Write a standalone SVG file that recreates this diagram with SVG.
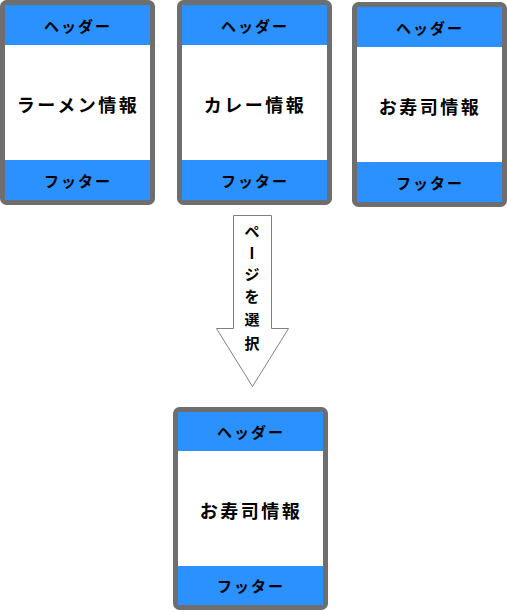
<svg xmlns="http://www.w3.org/2000/svg" width="507" height="612" viewBox="0 0 507 612">
<style>
.frame{fill:#fff;stroke:#6e6e6e;stroke-width:5}
.bar{fill:#2a91fe}
text{font-family:"Noto Sans CJK JP","Noto Sans",sans-serif;fill:#000;text-anchor:middle;dominant-baseline:central;font-weight:bold}
.hf{font-size:15px;letter-spacing:2px}
.main{font-size:18px;letter-spacing:2.5px}
.arr{font-size:15px}
</style>
<g id="page-ramen">
<rect class="frame" x="2.5" y="2.5" width="150" height="200" rx="4"/>
<rect class="bar" x="5" y="5" width="145" height="40"/>
<rect class="bar" x="5" y="160" width="145" height="40"/>
<text class="hf" x="78" y="25">ヘッダー</text>
<text class="main" x="78" y="104">ラーメン情報</text>
<text class="hf" x="78" y="180">フッター</text>
</g>
<g id="page-curry">
<rect class="frame" x="179.5" y="2.5" width="150" height="200" rx="4"/>
<rect class="bar" x="182" y="5" width="145" height="40"/>
<rect class="bar" x="182" y="160" width="145" height="40"/>
<text class="hf" x="255" y="25">ヘッダー</text>
<text class="main" x="255" y="104">カレー情報</text>
<text class="hf" x="255" y="180">フッター</text>
</g>
<g id="page-sushi">
<rect class="frame" x="354.5" y="4.5" width="150" height="200" rx="4"/>
<rect class="bar" x="357" y="7" width="145" height="40"/>
<rect class="bar" x="357" y="162" width="145" height="40"/>
<text class="hf" x="430" y="27">ヘッダー</text>
<text class="main" x="430" y="106">お寿司情報</text>
<text class="hf" x="430" y="182">フッター</text>
</g>
<g id="connectors">
<polygon points="233.5,215.5 271.5,215.5 271.5,328.5 288.5,328.5 252.5,386.5 216.5,328.5 233.5,328.5" fill="#fff" stroke="#808080" stroke-width="1"/>
<text class="arr" x="252" y="230">ペ</text>
<text class="arr" x="252" y="253" transform="rotate(90 252 253)">ー</text>
<text class="arr" x="252" y="273">ジ</text>
<text class="arr" x="252" y="295">を</text>
<text class="arr" x="252" y="318">選</text>
<text class="arr" x="252" y="342">択</text>
</g>
<g id="page-result">
<rect class="frame" x="175.5" y="409.5" width="150" height="198" rx="4"/>
<rect class="bar" x="178" y="412" width="145" height="39"/>
<rect class="bar" x="178" y="566" width="145" height="39"/>
<text class="hf" x="251" y="431">ヘッダー</text>
<text class="main" x="251" y="510">お寿司情報</text>
<text class="hf" x="251" y="585">フッター</text>
</g>
</svg>
